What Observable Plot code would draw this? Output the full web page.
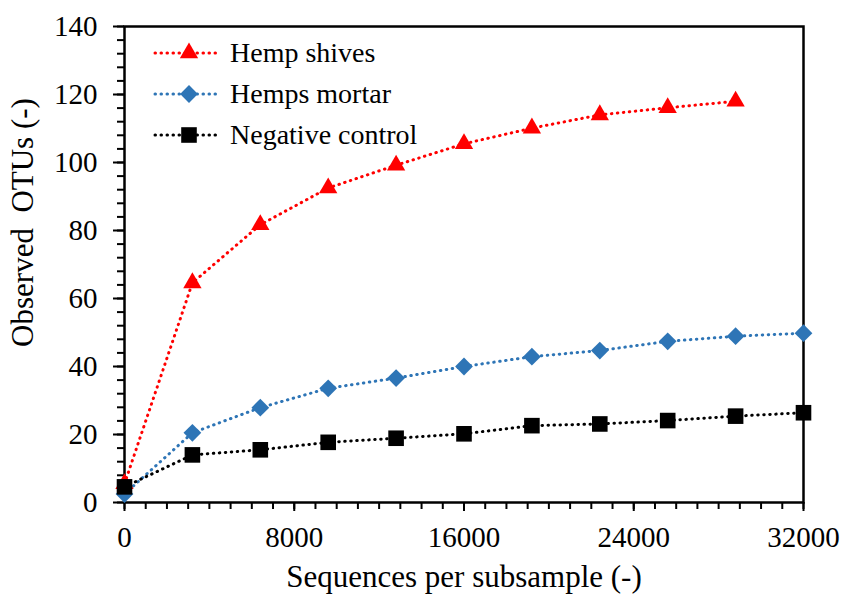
<!DOCTYPE html>
<html><head><meta charset="utf-8">
<script src="https://cdn.jsdelivr.net/npm/d3@7"></script>
<script src="https://cdn.jsdelivr.net/npm/@observablehq/plot@0.6"></script>
<style>body{margin:0;background:#fff} #chart svg{display:block}</style>
</head><body><div id="chart"></div>
<script>
const sequences = [0, 3200, 6400, 9600, 12800, 16000, 19200, 22400, 25600, 28800, 32000];
const hempShives = [5.5, 64.6, 81.7, 92.5, 99.2, 105.5, 110.1, 114.0, 116.1, 118.0];
const hempsMortar = [2.5, 20.5, 27.9, 33.6, 36.6, 40.0, 42.9, 44.7, 47.4, 48.9, 49.8];
const negativeControl = [4.6, 14.0, 15.5, 17.7, 18.9, 20.2, 22.6, 23.1, 24.1, 25.4, 26.4];

const seriesNames = ["Hemp shives", "Hemps mortar", "Negative control"];
const seriesColors = ["#ff0000", "#2e75b6", "#000000"];
const seriesSymbols = ["triangle", "diamond2", "square"];
const d3Symbols = [d3.symbolTriangle, d3.symbolDiamond2, d3.symbolSquare];
const seriesR = [6.8, 8.0, 8.8];

const xTicks = [0, 8000, 16000, 24000, 32000];
const yTicks = [0, 20, 40, 60, 80, 100, 120, 140];
const xTitle = "Sequences per subsample (-)";
const yTitle = "Observed  OTUs (-)";

const seriesValues = [hempShives, hempsMortar, negativeControl];
const rows = [];
seriesValues.forEach((vals, i) => vals.forEach((v, j) => rows.push({series: seriesNames[i], x: sequences[j], y: v})));

const font = "'Liberation Serif', 'Times New Roman', serif";
const dash = "0.5,5.5";

function legend(index, scales, values, dimensions) {
  const g = d3.create("svg:g");
  const ml = dimensions && dimensions.marginLeft != null ? dimensions.marginLeft : 124;
  const mt = dimensions && dimensions.marginTop != null ? dimensions.marginTop : 26;
  seriesNames.forEach((name, i) => {
    const cy = mt + 27 + i * 41;
    const x0 = ml + 31;
    g.append("line").attr("x1", x0).attr("x2", x0 + 63).attr("y1", cy).attr("y2", cy)
      .attr("stroke", seriesColors[i]).attr("stroke-width", 3)
      .attr("stroke-dasharray", dash).attr("stroke-linecap", "round");
    g.append("path").attr("transform", `translate(${x0 + 34},${cy})`)
      .attr("d", d3.symbol(d3Symbols[i], Math.PI * seriesR[i] * seriesR[i])())
      .attr("fill", seriesColors[i]);
    g.append("text").attr("x", x0 + 75).attr("y", cy).attr("dy", "0.32em")
      .attr("text-anchor", "start")
      .attr("font-size", 28).attr("fill", "#000").text(name);
  });
  return g.node();
}

const marks = [
  Plot.axisX({ticks: d3.range(0, 32001, 1000), tickSize: 7, text: null, label: null, strokeWidth: 2}),
  Plot.axisX({ticks: xTicks, tickSize: 9, tickPadding: 15, label: null, tickFormat: d => String(d), strokeWidth: 2, fontSize: 29}),
  Plot.axisY({ticks: d3.range(0, 141, 4), tickSize: 7, text: null, label: null, strokeWidth: 2}),
  Plot.axisY({ticks: yTicks, tickSize: 11, tickPadding: 16, label: null, tickFormat: d => String(d), strokeWidth: 2, fontSize: 29}),
  Plot.frame({stroke: "#000", strokeWidth: 2.5})
];
seriesNames.forEach((name, i) => {
  marks.push(Plot.line(rows.filter(r => r.series === name), {
    x: "x", y: "y", stroke: seriesColors[i], strokeWidth: 3,
    strokeDasharray: dash, strokeLinecap: "round"
  }));
});
seriesNames.forEach((name, i) => {
  marks.push(Plot.dot(rows.filter(r => r.series === name), {
    x: "x", y: "y", symbol: seriesSymbols[i], r: seriesR[i], fill: seriesColors[i], stroke: "none"
  }));
});
marks.push(Plot.text([xTitle], {text: d => d, frameAnchor: "bottom", dy: 75, lineAnchor: "middle", fontSize: 31}));
marks.push(Plot.text([yTitle], {text: d => d, frameAnchor: "left", rotate: -90, dx: -101, dy: -42, lineAnchor: "middle", textAnchor: "middle", fontSize: 31}));
marks.push(legend);

const plot = Plot.plot({
  width: 847, height: 598,
  marginLeft: 124, marginRight: 44, marginTop: 26, marginBottom: 96,
  style: {fontFamily: font, fontSize: "28px", color: "#000", background: "#fff", overflow: "visible"},
  x: {domain: [0, 32000]},
  y: {domain: [0, 140]},
  marks
});
document.getElementById("chart").appendChild(plot);
</script>
</body></html>
